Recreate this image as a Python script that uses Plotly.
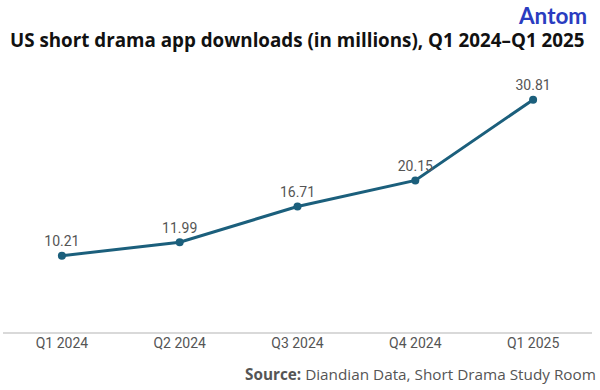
import plotly.graph_objects as go

quarters = ["Q1 2024", "Q2 2024", "Q3 2024", "Q4 2024", "Q1 2025"]
downloads = [10.21, 11.99, 16.71, 20.15, 30.81]
labels = ["10.21", "11.99", "16.71", "20.15", "30.81"]

LINE = "#1b5f7c"

fig = go.Figure()
fig.add_trace(go.Scatter(
    x=quarters, y=downloads, mode="lines+markers+text",
    line=dict(color=LINE, width=3),
    marker=dict(color=LINE, size=8),
    text=labels, textposition="top center",
    textfont=dict(family="Roboto, sans-serif", size=14, color="#555555"),
    cliponaxis=False, showlegend=False,
))

fig.update_layout(
    width=600, height=390,
    margin=dict(l=3, r=8, t=68, b=57),
    plot_bgcolor="white", paper_bgcolor="white",
    xaxis=dict(
        type="category", range=[-0.5, 4.5],
        showgrid=False, zeroline=False,
        showline=False, ticks="",
        tickfont=dict(family="Roboto, sans-serif", size=14, color="#555555"),
    ),
    yaxis=dict(
        range=[0, 35], showgrid=False, zeroline=True,
        zerolinecolor="#d9d9d9", zerolinewidth=2,
        showticklabels=False, showline=False, ticks="",
    ),
    annotations=[
        dict(text="<b>US short drama app downloads (in millions), Q1 2024–Q1 2025</b>",
             xref="paper", yref="paper", x=0.0, y=1.0, xanchor="left", yanchor="bottom",
             xshift=5, yshift=13, showarrow=False,
             font=dict(family="Open Sans, sans-serif", size=18.8, color="#111111")),
        dict(text="<b>Antom</b>",
             xref="paper", yref="paper", x=1.0, y=1.0, xanchor="right", yanchor="middle",
             xshift=-3, yshift=53, showarrow=False,
             font=dict(family="Lato, sans-serif", size=22.5, color="#2a3cc0")),
        dict(text="<b>Source:</b> Diandian Data, Short Drama Study Room",
             xref="paper", yref="paper", x=1.0, y=0.0, xanchor="right", yanchor="top",
             xshift=6, yshift=-29, showarrow=False,
             font=dict(family="Open Sans, sans-serif", size=15.3, color="#555555")),
    ],
)

fig.write_html("out.html", config={"displayModeBar": False},
               post_script="document.body.style.margin='0';document.body.style.overflow='hidden';")
